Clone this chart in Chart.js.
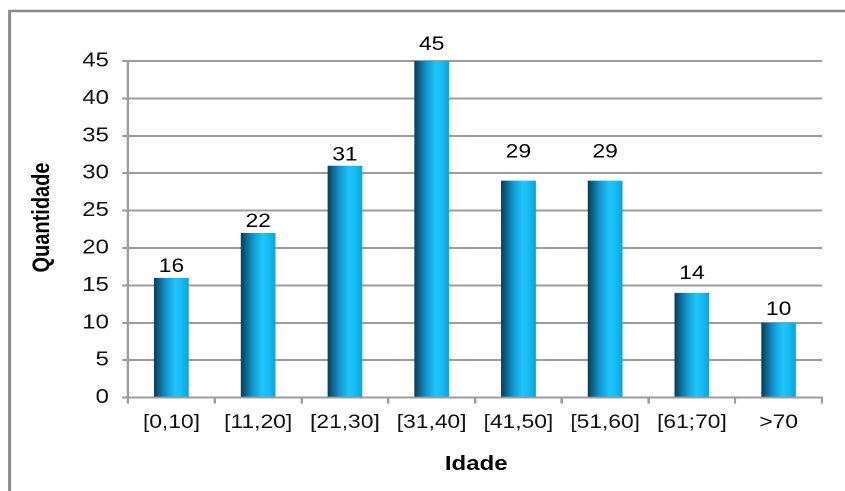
<!DOCTYPE html>
<html>
<head>
<meta charset="utf-8">
<script src="https://cdn.jsdelivr.net/npm/chart.js@4/dist/chart.umd.min.js"></script>
<style>
  html, body { margin: 0; padding: 0; background: #fff; overflow: hidden; }
  /* the chart is laid out narrow and widened by 1.2 so the text runs wide */
  #wrap { position: absolute; left: 0; top: 0; width: 704px; height: 491px;
          transform: scaleX(1.2); transform-origin: 0 0; }
</style>
</head>
<body>
<div id="wrap"><canvas id="c" width="704" height="491"></canvas></div>
<script>
const categories = ['[0,10]', '[11,20]', '[21,30]', '[31,40]', '[41,50]', '[51,60]', '[61;70]', '>70'];
const quantities = [16, 22, 31, 45, 29, 29, 14, 10];
const yMin = 0, yMax = 45, yStep = 5;
const xTitle = 'Idade';
const yTitle = 'Quantidade';
// distance from each bar top to its value label
const labelGap = [6, 6, 5, 11, 23, 23, 14, 8];

const FONT = '"Liberation Sans", Arial, sans-serif';
const GRID = '#9c9c9c';
const BAR_SHARE = 0.4;

function barGradient(c) {
  const chart = c.chart;
  const xs = chart.scales.x;
  if (!chart.chartArea || !xs || c.dataIndex === undefined) return '#18b2ec';
  const cx = xs.getPixelForValue(c.dataIndex);
  const w = (xs.right - xs.left) / categories.length * BAR_SHARE;
  const g = chart.ctx.createLinearGradient(cx - w / 2, 0, cx + w / 2, 0);
  g.addColorStop(0.00, '#0a3a52');
  g.addColorStop(0.12, '#0c5d82');
  g.addColorStop(0.35, '#1298cf');
  g.addColorStop(0.62, '#1fc6fb');
  g.addColorStop(0.80, '#17bbf3');
  g.addColorStop(1.00, '#0ea3dc');
  return g;
}

const frame = {
  id: 'frame',
  beforeDraw(chart) {
    const ctx = chart.ctx;
    ctx.save();
    ctx.strokeStyle = '#8a8a8a';
    ctx.lineWidth = 2.5;
    ctx.beginPath();
    ctx.moveTo(7.9, 491);
    ctx.lineTo(7.9, 11);
    ctx.lineTo(704, 11);
    ctx.stroke();
    ctx.restore();
  }
};

const annotate = {
  id: 'annotate',
  afterDatasetsDraw(chart) {
    const ctx = chart.ctx;
    const area = chart.chartArea;
    const meta = chart.getDatasetMeta(0);
    ctx.save();
    ctx.fillStyle = '#000';
    ctx.textAlign = 'center';
    ctx.textBaseline = 'alphabetic';
    ctx.font = '19px ' + FONT;
    meta.data.forEach((bar, i) => {
      ctx.fillText(String(quantities[i]), bar.x, bar.y - labelGap[i]);
    });
    ctx.font = 'bold 20px ' + FONT;
    ctx.fillText(xTitle, (area.left + area.right) / 2 + 1, 470);
    ctx.translate(41, 217.5);
    ctx.rotate(-Math.PI / 2);
    ctx.fillText(yTitle, 0, 0);
    ctx.restore();
  }
};

new Chart(document.getElementById('c'), {
  type: 'bar',
  data: {
    labels: categories,
    datasets: [{
      data: quantities,
      backgroundColor: barGradient,
      borderWidth: 0,
      categoryPercentage: 1,
      barPercentage: BAR_SHARE
    }]
  },
  options: {
    responsive: false,
    animation: false,
    devicePixelRatio: 2,
    layout: { padding: { left: 0, right: 19, top: 61, bottom: 0 } },
    plugins: { legend: { display: false }, tooltip: { enabled: false } },
    scales: {
      x: {
        offset: true,
        grid: { display: true, drawOnChartArea: false, drawTicks: true, tickLength: 6,
                offset: true, color: GRID, lineWidth: 2 },
        border: { color: GRID, width: 2 },
        ticks: { color: '#111', padding: 8, font: { family: FONT, size: 19 }, maxRotation: 0 },
        afterFit(s) { s.height = 93.4; }
      },
      y: {
        min: yMin, max: yMax,
        grid: { color: GRID, lineWidth: 2, drawTicks: true, tickLength: 5 },
        border: { color: GRID, width: 2 },
        ticks: { stepSize: yStep, color: '#111', padding: 11, font: { family: FONT, size: 20 } },
        afterFit(s) { s.width = 106.7; }
      }
    }
  },
  plugins: [frame, annotate]
});
</script>
</body>
</html>
